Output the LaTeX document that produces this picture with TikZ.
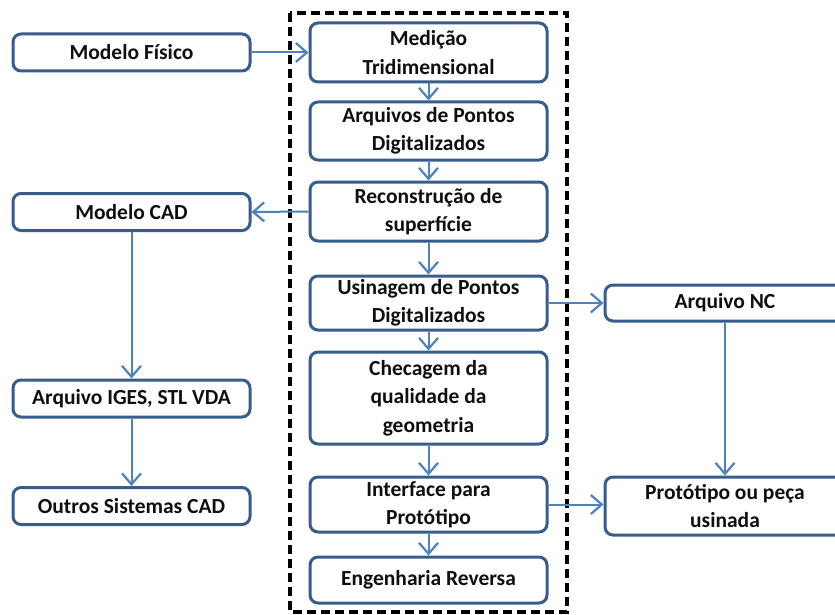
\documentclass[tikz,border=0pt]{standalone}
\usepackage{fontspec}
\setmainfont{Carlito}
\usetikzlibrary{arrows.meta}
\definecolor{boxline}{RGB}{56,93,140}
\definecolor{flow}{RGB}{79,129,189}
\definecolor{ink}{RGB}{15,15,15}
\tikzset{
  box/.style={draw=boxline, line width=3pt, rounded corners=8pt, fill=white,
    text=ink, align=center, inner sep=0pt,
    font=\bfseries\fontsize{21.5}{28.5}\selectfont},
  leftbox/.style={box, minimum width=237pt, minimum height=37pt},
  midbox/.style={box, minimum width=237pt},
  rightbox/.style={box, minimum width=240pt},
  flowarrow/.style={draw=flow, line width=2pt,
    -{Straight Barb[length=11pt,width=19pt,line width=2.2pt]}},
  frame/.style={draw=black, line width=3.5pt, dash pattern=on 9pt off 5pt}
}
\begin{document}
\begin{tikzpicture}[x=1pt,y=-1pt]
\useasboundingbox (0,0) rectangle (835,615);
\clip (0,0) rectangle (835,615);
\fill[white] (0,0) rectangle (835,615);

% process enclosure
\draw[frame] (290,13) rectangle (567,612);

% left column
\node[leftbox] (fisico) at (131.5,52.5) {Modelo Físico};
\node[leftbox] (cad)    at (131.5,212)  {Modelo CAD};
\node[leftbox] (iges)   at (131.5,398.5){Arquivo IGES, STL VDA};
\node[leftbox] (outros) at (131.5,506)  {Outros Sistemas CAD};

% central process chain
\node[midbox, minimum height=59pt] (med) at (428.5,52.5) {Medição\\Tridimensional};
\node[midbox, minimum height=58pt] (arq) at (428.5,131)  {Arquivos de Pontos\\Digitalizados};
\node[midbox, minimum height=59pt] (rec) at (428.5,211.5){Reconstrução de\\superfície};
\node[midbox, minimum height=54pt] (usi) at (428.5,303)  {Usinagem de Pontos\\Digitalizados};
\node[midbox, minimum height=92pt] (che) at (428.5,398)  {Checagem da\\qualidade da\\geometria};
\node[midbox, minimum height=55pt] (int) at (428.5,504.5){Interface para\\Protótipo};
\node[midbox, minimum height=46pt] (eng) at (428.5,580)  {Engenharia Reversa};

% right column
\node[rightbox, minimum height=36pt] (nc)   at (725,303) {Arquivo NC};
\node[rightbox, minimum height=58pt] (prot) at (725,506) {Protótipo ou peça\\usinada};

% connectors
\draw[flowarrow] (fisico.east) -- (med.west);
\draw[flowarrow] (med.south) -- (arq.north);
\draw[flowarrow] (arq.south) -- (rec.north);
\draw[flowarrow] (rec.south) -- (usi.north);
\draw[flowarrow] (usi.south) -- (che.north);
\draw[flowarrow] (che.south) -- (int.north);
\draw[flowarrow] (int.south) -- (eng.north);
\draw[flowarrow] (rec.west) -- (cad.east);
\draw[flowarrow] (cad.south) -- (iges.north);
\draw[flowarrow] (iges.south) -- (outros.north);
\draw[flowarrow] (usi.east) -- (nc.west);
\draw[flowarrow] (nc.south) -- (prot.north);
\draw[flowarrow] (int.east) -- (int.east -| prot.west);
\end{tikzpicture}
\end{document}
